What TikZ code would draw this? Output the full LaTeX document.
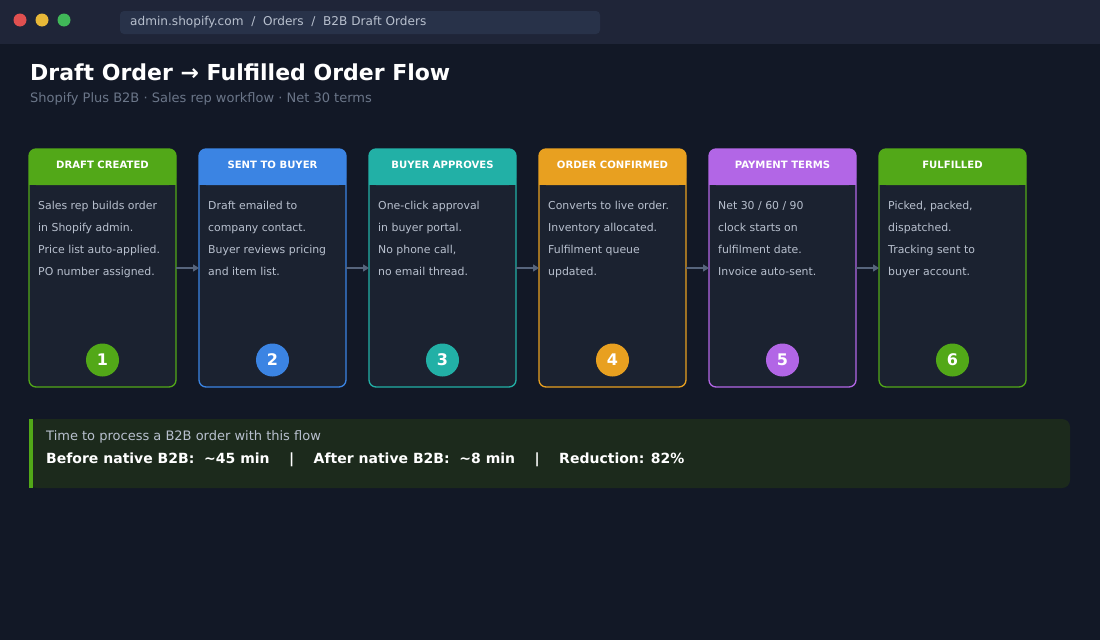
\documentclass[tikz,border=0pt]{standalone}
\usepackage{fontspec}
\setmainfont{DejaVu Sans}
\usetikzlibrary{arrows.meta,positioning}
\definecolor{bg}{HTML}{121826}
\definecolor{topbar}{HTML}{1F2538}
\definecolor{urlbox}{HTML}{283249}
\definecolor{cardbg}{HTML}{1B2230}
\definecolor{cgreen}{HTML}{52A818}
\definecolor{cblue}{HTML}{3B84E3}
\definecolor{cteal}{HTML}{22B0A6}
\definecolor{corange}{HTML}{E8A020}
\definecolor{cpurple}{HTML}{B266E6}
\definecolor{bodytxt}{HTML}{B8C0CE}
\definecolor{subtxt}{HTML}{6B7689}
\definecolor{arrowc}{HTML}{56647C}
\definecolor{panelbg}{HTML}{1C2A1C}

\begin{document}
\begin{tikzpicture}[x=1pt,y=-1pt,font=\fontsize{11}{13}\selectfont]
  \tikzset{
    card/.style={draw=#1,line width=1.3pt,fill=cardbg,rounded corners=7pt},
    cardhead/.style={fill=#1,rounded corners=7pt},
    headtxt/.style={text=white,font=\fontsize{10.1}{12}\selectfont\bfseries},
    bodyline/.style={text=bodytxt,anchor=base west,inner sep=0pt,font=\fontsize{10.9}{13}\selectfont},
    badge/.style={circle,fill=#1,minimum size=33pt,inner sep=0pt,text=white,font=\fontsize{16}{18}\selectfont\bfseries},
    flow/.style={-{Triangle[length=6pt,width=7pt]},draw=arrowc,line width=1.3pt}
  }
  \useasboundingbox (0,0) rectangle (1100,640);
  \fill[bg] (0,0) rectangle (1100,640);
  \fill[topbar] (0,0) rectangle (1100,44);
  \foreach \c/\xx in {E05050/20,E8B838/42,40B858/64}{
    \definecolor{dotc}{HTML}{\c}
    \fill[dotc] (\xx,20) circle (6.5);
  }
  \fill[urlbox,rounded corners=4pt] (120,11) rectangle (600,34);
  \node[anchor=west,text=bodytxt,font=\fontsize{12.1}{14}\selectfont,inner sep=0pt] (url) at (130,22.5)
    {admin.shopify.com\ \ /\ \ Orders\ \ /\ \ B2B Draft Orders};

  \node[anchor=west,text=white,font=\fontsize{22}{24}\selectfont\bfseries,inner sep=0pt] (title) at (30,72)
    {Draft Order → Fulfilled Order Flow};
  \node[anchor=west,text=subtxt,font=\fontsize{13}{15}\selectfont,inner sep=0pt] (subtitle) at (30,99)
    {Shopify Plus B2B · Sales rep workflow · Net 30 terms};

  % cards
  \foreach \i/\col/\head/\la/\lb/\lc/\ld in {
    1/cgreen/DRAFT CREATED/Sales rep builds order/in Shopify admin./Price list auto-applied./PO number assigned.,
    2/cblue/SENT TO BUYER/Draft emailed to/company contact./Buyer reviews pricing/and item list.,
    3/cteal/BUYER APPROVES/One-click approval/in buyer portal./{No phone call,}/no email thread.,
    4/corange/ORDER CONFIRMED/Converts to live order./Inventory allocated./Fulfilment queue/updated.,
    5/cpurple/PAYMENT TERMS/{Net 30 / 60 / 90}/clock starts on/fulfilment date./Invoice auto-sent.,
    6/cgreen/FULFILLED/{Picked, packed,}/dispatched./Tracking sent to/buyer account.}{
    \pgfmathsetmacro{\xl}{29+170*(\i-1)}
    \pgfmathsetmacro{\xc}{\xl+73.5}
    \draw[card=\col] (\xl,149) rectangle ++(147,238);
    \fill[cardhead=\col] (\xl,149) rectangle ++(147,36);
    \fill[\col] (\xl,175) rectangle ++(147,10);
    \node[headtxt] (head\i) at (\xc,165) {\head};
    \node[bodyline] (la\i) at (\xl+9,209) {\la};
    \node[bodyline] (lb\i) at (\xl+9,231) {\lb};
    \node[bodyline] (lc\i) at (\xl+9,253) {\lc};
    \node[bodyline] (ld\i) at (\xl+9,275) {\ld};
    \node[badge=\col] (num\i) at (\xc,360) {\i};
    \coordinate (in\i) at (\xl,268);
    \coordinate (out\i) at (\xl+147,268);
  }
  \foreach \a/\b in {1/2,2/3,3/4,4/5,5/6}
    \draw[flow] (out\a) -- (in\b);

  % summary panel
  \fill[panelbg,rounded corners=8pt] (29,419) rectangle (1070,488);
  \fill[cgreen] (29,419) rectangle (33,488);
  \node[anchor=west,text=bodytxt,font=\fontsize{13}{15}\selectfont,inner sep=0pt] (sumhead) at (46,437)
    {Time to process a B2B order with this flow};
  \node[anchor=west,text=white,font=\fontsize{14}{16}\selectfont\bfseries,inner sep=0pt] (sumline) at (46,460)
    {Before native B2B:\ \ \textasciitilde 45 min\ \ \ \ |\ \ \ \ After native B2B:\ \ \textasciitilde 8 min\ \ \ \ |\ \ \ \ Reduction: 82\%};
\end{tikzpicture}
\end{document}
